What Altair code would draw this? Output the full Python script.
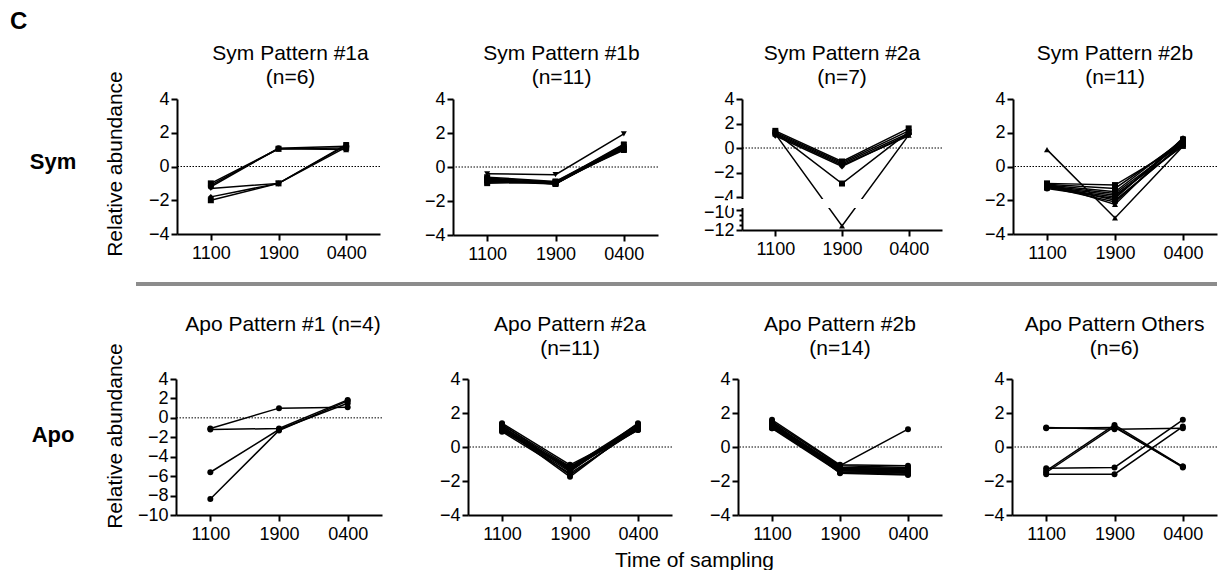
import altair as alt
import pandas as pd

FONT = "Liberation Sans"
TIMES = ["1100", "1900", "0400"]

# one inner list per line: values at 1100, 1900, 0400
SYM_1A = [
    [-1.00, 1.05, 1.10],
    [-1.10, 1.05, 1.00],
    [-1.20, 1.08, 1.20],
    [-1.30, -1.00, 1.30],
    [-1.80, -1.00, 1.15],
    [-2.00, -1.00, 1.25],
]
SYM_1B = [
    [-0.40, -0.45, 1.95],
    [-0.60, -0.85, 1.00],
    [-0.65, -0.90, 1.10],
    [-0.70, -0.95, 1.20],
    [-0.75, -1.00, 1.30],
    [-0.80, -0.90, 1.35],
    [-0.80, -0.95, 1.05],
    [-0.85, -1.00, 1.15],
    [-0.90, -0.85, 1.25],
    [-0.95, -0.90, 1.10],
    [-0.70, -1.00, 1.20],
]
SYM_2A = [
    [1.40, -1.10, 1.60],
    [1.30, -1.20, 1.40],
    [1.20, -1.30, 1.20],
    [1.10, -1.40, 1.00],
    [1.00, -1.50, 1.10],
    [1.25, -2.90, 1.30],
    [1.15, -11.60, 1.05],
]
SYM_2B = [
    [1.00, -3.05, 1.20],
    [-1.00, -1.10, 1.30],
    [-1.05, -1.30, 1.50],
    [-1.10, -1.50, 1.60],
    [-1.15, -1.60, 1.40],
    [-1.20, -1.70, 1.20],
    [-1.25, -1.80, 1.50],
    [-1.30, -1.90, 1.65],
    [-1.10, -2.00, 1.30],
    [-1.20, -2.10, 1.40],
    [-1.00, -2.25, 1.70],
]
APO_1 = [
    [-1.10, 1.00, 1.10],
    [-1.20, -1.10, 1.85],
    [-5.60, -1.20, 1.50],
    [-8.35, -1.30, 1.75],
]
APO_2A = [
    [1.40, -1.05, 1.00],
    [1.30, -1.15, 1.10],
    [1.20, -1.25, 1.20],
    [1.10, -1.35, 1.30],
    [1.00, -1.45, 1.40],
    [0.90, -1.55, 1.05],
    [1.25, -1.65, 1.15],
    [1.15, -1.75, 1.25],
    [1.05, -1.20, 1.35],
    [0.95, -1.30, 1.00],
    [1.35, -1.40, 1.20],
]
APO_2B = [
    [1.60, -1.05, -1.10],
    [1.50, -1.10, -1.20],
    [1.40, -1.20, -1.30],
    [1.35, -1.25, -1.35],
    [1.30, -1.30, -1.40],
    [1.25, -1.35, -1.45],
    [1.20, -1.40, -1.50],
    [1.15, -1.45, -1.55],
    [1.10, -1.50, -1.60],
    [1.45, -1.55, -1.65],
    [1.30, -1.20, -1.25],
    [1.20, -1.30, -1.50],
    [1.40, -1.40, -1.40],
    [1.10, -1.10, 1.05],
]
APO_OTHERS = [
    [1.15, 1.05, 1.10],
    [1.10, 1.15, -1.15],
    [-1.40, 1.30, -1.15],
    [-1.50, 1.20, -1.20],
    [-1.25, -1.20, 1.60],
    [-1.60, -1.60, 1.20],
]

SYM_SHAPES = ["square", "triangle-up", "circle", "triangle-down", "diamond"]
APO_SHAPES = ["circle"]

TICKS_STD = [4, 2, 0, -2, -4]
TICKS_APO1 = [4, 2, 0, -2, -4, -6, -8, -10]
TICKS_BROKEN = [4, 2, 0, -2, -4, -10, -10.5, -11, -11.5, -12]


def long_df(series, shapes):
    rows = []
    for i, s in enumerate(series):
        for t, v in zip(TIMES, s):
            rows.append({"series": i, "time": t, "value": v,
                         "shape": shapes[i % len(shapes)]})
    return pd.DataFrame(rows)


def panel(series, title, width, height, ydomain, yvalues, shapes,
          yrange=None, xtitle=None, xtitle_x=None,
          title_offset=2, title_dx=0, broken=False):
    df = long_df(series, shapes)
    sk = dict(domain=ydomain, nice=False, zero=False)
    if yrange is not None:
        sk["range"] = yrange
    ak = dict(values=yvalues, title=None, labelOverlap=False)
    if broken:
        ak["labelExpr"] = "(datum.value % 2 == 0) ? datum.label : ''"
        ak["tickSize"] = {"condition": {"test": "datum.value % 2 == 0", "value": 6}, "value": 3}
        ak["labelOffset"] = {"condition": {"test": "datum.value == -10", "value": 2}, "value": 0}
    y = alt.Y("value:Q", scale=alt.Scale(**sk), axis=alt.Axis(**ak))
    xak = dict(title=xtitle, labelAngle=0)
    if xtitle_x is not None:
        xak["titleX"] = xtitle_x
        xak["titlePadding"] = 6
    x = alt.X("time:O", sort=TIMES, scale=alt.Scale(type="point", padding=0.5),
              axis=alt.Axis(**xak))

    zero = alt.Chart(pd.DataFrame({"value": [0]})).mark_rule(
        color="black", strokeWidth=1, strokeDash=[1.5, 1.5]).encode(y=y)
    lines = alt.Chart(df).mark_line(color="black", strokeWidth=1.5).encode(
        x=x, y=y, detail="series:N")
    pts = alt.Chart(df).mark_point(filled=True, size=36, opacity=1, color="black").encode(
        x=x, y=y, shape=alt.Shape("shape:N", scale=None))
    layers = [zero, lines]
    if broken:
        gap = alt.Chart(pd.DataFrame({"value": [-4], "v2": [-10]})).mark_rect(
            color="white", yOffset=2, y2Offset=-2).encode(
            y=y, y2="v2:Q", x=alt.value(-14), x2=alt.value(width))
        layers.append(gap)
    layers.append(pts)
    return alt.layer(*layers).properties(
        width=width, height=height,
        title=alt.TitleParams(text=title, fontSize=21, font=FONT, fontWeight="normal",
                              color="black", lineHeight=24, offset=title_offset,
                              frame="group", anchor="middle", dx=title_dx))


def row_label(txt, width, height, ypos, yc):
    # yc: centre of the rotated "Relative abundance" text; drawn as two words
    df = pd.DataFrame({"label": [txt], "w1": ["Relative"], "w2": ["abundance"]})
    base = alt.Chart(df)
    name = base.mark_text(font=FONT, fontSize=22, fontWeight="bold", color="black").encode(
        text="label:N", x=alt.value(43), y=alt.value(ypos))
    word1 = base.mark_text(font=FONT, fontSize=21, color="black", angle=270,
                           baseline="middle", align="left").encode(
        text="w1:N", x=alt.value(106), y=alt.value(yc + 92.8))
    word2 = base.mark_text(font=FONT, fontSize=21, color="black", angle=270,
                           baseline="middle", align="right").encode(
        text="w2:N", x=alt.value(106), y=alt.value(yc - 92.8))
    return alt.layer(name, word1, word2).properties(width=width, height=height)


def spacer(w):
    return alt.Chart(pd.DataFrame({"s": [0]})).mark_point(opacity=0).encode(
        x=alt.value(0), y=alt.value(0)).properties(width=w, height=1)


p1 = panel(SYM_1A, ["Sym Pattern #1a", "(n=6)"], 203, 135, [-4, 4], TICKS_STD,
           SYM_SHAPES, title_dx=12)
p2 = panel(SYM_1B, ["Sym Pattern #1b", "(n=11)"], 205, 136, [-4, 4], TICKS_STD,
           ["triangle-down", "square", "circle", "triangle-up", "square"], title_dx=6)
p3 = panel(SYM_2A, ["Sym Pattern #2a", "(n=7)"], 200, 131, [-12, -10, -4, 4],
           TICKS_BROKEN, SYM_SHAPES, yrange=[131, 111, 98, 0], broken=True)
p4 = panel(SYM_2B, ["Sym Pattern #2b", "(n=11)"], 204, 135, [-4, 4], TICKS_STD,
           ["triangle-up", "square", "circle", "square", "circle"])

p5 = panel(APO_1, ["Apo Pattern #1 (n=4)"], 206, 136, [-10, 4], TICKS_APO1,
           APO_SHAPES, title_offset=35, title_dx=4)
p6 = panel(APO_2A, ["Apo Pattern #2a", "(n=11)"], 204, 136, [-4, 4], TICKS_STD,
           APO_SHAPES, title_offset=11, xtitle="Time of sampling", xtitle_x=226)
p7 = panel(APO_2B, ["Apo Pattern #2b", "(n=14)"], 204, 136, [-4, 4], TICKS_STD,
           APO_SHAPES, title_offset=11)
p8 = panel(APO_OTHERS, ["Apo Pattern Others", "(n=6)"], 205, 136, [-4, 4], TICKS_STD,
           APO_SHAPES, title_offset=11)

row1 = alt.hconcat(row_label("Sym", 167, 135, 63, 65), p1, spacer(73), p2, spacer(84),
                   p3, spacer(71), p4, spacing=0, bounds="flush")
row2 = alt.hconcat(row_label("Apo", 166, 136, 56, 57), p5, spacer(86), p6, spacer(66),
                   p7, spacer(70), p8, spacing=0, bounds="flush")

divider = alt.Chart(pd.DataFrame({"d": [0]})).mark_rule(
    color="#8c8c8c", strokeWidth=4).encode(
    x=alt.value(126), x2=alt.value(1207), y=alt.value(21)).properties(width=1207, height=51)

chart = alt.vconcat(
    row1, divider, row2, spacing=0,
    title=alt.TitleParams("C", anchor="start", fontSize=24, fontWeight="bold",
                          font=FONT, color="black", offset=9),
).properties(
    padding={"left": 2, "top": 2, "right": -1, "bottom": 0}
).configure_view(stroke=None).configure_axis(
    domainColor="black", domainWidth=2, tickColor="black", tickWidth=2, tickSize=6,
    labelFont=FONT, labelFontSize=18, labelColor="black", labelPadding=2,
    titleFont=FONT, titleFontSize=21, titleFontWeight="normal", titleColor="black",
    grid=False,
).configure_axisX(labelPadding=4)

chart.save("out.html", embed_options={"renderer": "svg", "actions": False})
